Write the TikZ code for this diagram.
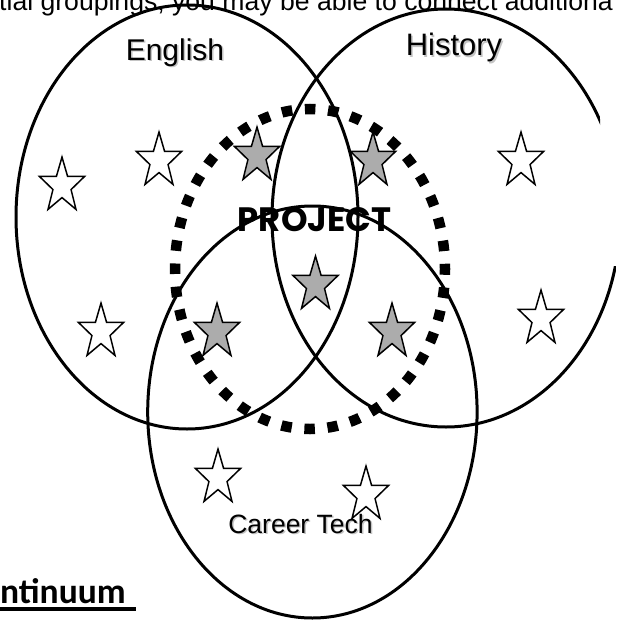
\documentclass[tikz,border=0pt]{standalone}
\usepackage{fontspec}
\setmainfont{Liberation Sans}
\newfontfamily\projfont{Poppins}
\newfontfamily\calfont{Carlito}
\definecolor{starfill}{HTML}{ACACAC}
\definecolor{shadowgray}{HTML}{C4C4C4}
\begin{document}
\begin{tikzpicture}[x=1pt,y=-1pt,
  venn/.style={line width=3pt},
  dotring/.style={line width=10.5pt, dash pattern=on 10.5pt off 12.7pt, dash phase=5.25pt},
  starw/.style={draw, line width=1.5pt, fill=white, line join=miter},
  starg/.style={starw, fill=starfill},
  lbl/.style={inner sep=0pt, anchor=base},
  shad/.style={lbl, text=shadowgray},
  pics/vstar/.style={code={
    \path[pic actions] (0,-28.9) -- (5.6,-9.6) -- (22.6,-9.6) -- (9.05,3.57)
      -- (14,23.4) -- (0,11.6) -- (-14,23.4) -- (-9.05,3.57) -- (-22.6,-9.6)
      -- (-5.6,-9.6) -- cycle;}}
]
\useasboundingbox (0,0) rectangle (616,623);
\clip (0,0) rectangle (616,623);

% Venn ellipses
\draw[venn] (187,217) ellipse [x radius=171pt, y radius=212pt];
\begin{scope}
  \clip (0,0) -- (600,0) -- (600,266) -- (616,266) -- (616,623) -- (0,623) -- cycle;
  \draw[venn] (446,218) ellipse [x radius=174pt, y radius=209pt];
\end{scope}
\draw[venn] (312.4,412) ellipse [x radius=164.7pt, y radius=206pt];

% project ring
\draw[dotring] (310,269) ellipse [x radius=135pt, y radius=160pt];

% white stars
\pic[starw] at (62,186) {vstar};
\pic[starw] at (159,161) {vstar};
\pic[starw] at (521,161) {vstar};
\pic[starw] at (101,332) {vstar};
\pic[starw] at (541,319) {vstar};
\pic[starw] at (218,478) {vstar};
\pic[starw] at (366,495) {vstar};
% grey stars
\pic[starg] at (257,156) {vstar};
\pic[starg] at (373,161) {vstar};
\pic[starg] at (315.5,285) {vstar};
\pic[starg] at (217,332) {vstar};
\pic[starg] at (392,332) {vstar};

% labels with soft shadows
\node[shad, font=\fontsize{30}{35}\selectfont] (engs) at (176.5,62) {English};
\node[lbl, font=\fontsize{30}{35}\selectfont] (eng) at (175,60.5) {English};
\node[shad, font=\fontsize{31}{36}\selectfont] (hists) at (455.5,57.5) {History};
\node[lbl, font=\fontsize{31}{36}\selectfont] (hist) at (454,56) {History};
\node[shad, font=\fontsize{26.5}{31}\selectfont] (cts) at (302,534.5) {Career Tech};
\node[lbl, font=\fontsize{26.5}{31}\selectfont] (ct) at (300.5,533) {Career Tech};
\node[lbl, font=\projfont\bfseries\fontsize{33.8}{38}\selectfont] (proj) at (314.5,231) {PROJECT};

% page text fragments
\node[inner sep=0pt, anchor=base west, font=\fontsize{26.6}{30}\selectfont] (top) at (-1,10.5)
  {tial groupings, you may be able to connect additiona};
\node[inner sep=0pt, anchor=base west, font=\calfont\bfseries\fontsize{35.5}{41}\selectfont] (cont) at (0,603) {ntinuum};
\draw[line width=4.5pt] ([yshift=-6pt]cont.base west) -- ([yshift=-6pt,xshift=10pt]cont.base east);
\end{tikzpicture}
\end{document}
